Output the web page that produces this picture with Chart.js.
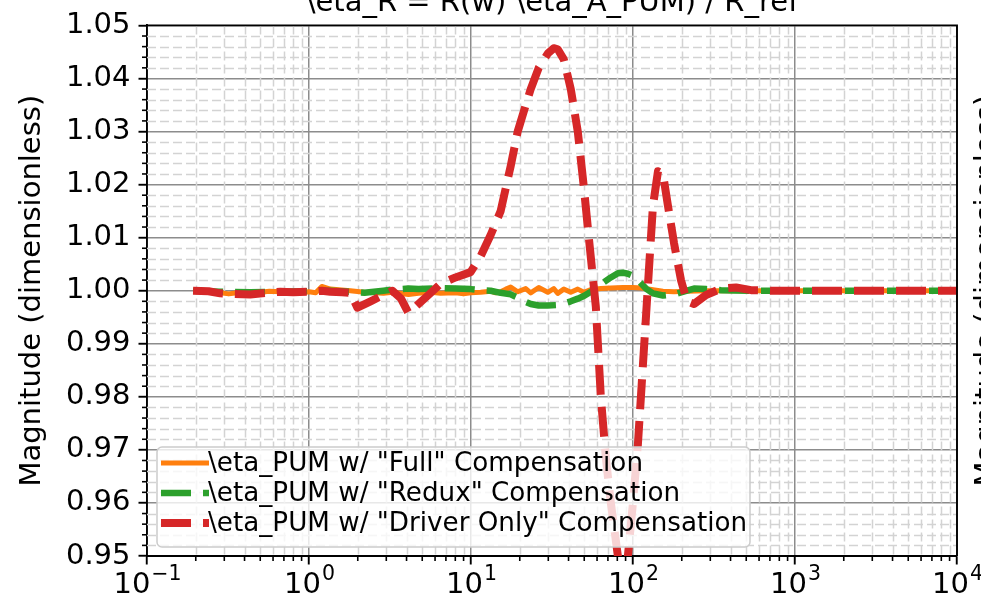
<!DOCTYPE html>
<html>
<head>
<meta charset="utf-8">
<script src="https://cdn.jsdelivr.net/npm/chart.js@4.4.0/dist/chart.umd.min.js"></script>
<style>
  html, body { margin: 0; padding: 0; background: #fff; overflow: hidden; }
  #wrap { width: 981px; height: 601px; }
</style>
</head>
<body>
<div id="wrap"><canvas id="chart" width="981" height="601"></canvas></div>
<script>
// axis ticks
const xTicks = [0.1, 1, 10, 100, 1000, 10000];
const xExponents = ['\u22121', '0', '1', '2', '3', '4'];
const yTicks = [0.95, 0.96, 0.97, 0.98, 0.99, 1.00, 1.01, 1.02, 1.03, 1.04, 1.05];

const seriesNames = [
  '\\eta_PUM w/ "Full" Compensation',
  '\\eta_PUM w/ "Redux" Compensation',
  '\\eta_PUM w/ "Driver Only" Compensation'
];

// "Full" compensation (orange)
const fullFreq = [0.1925, 0.24, 0.283, 0.32, 0.36, 0.434, 0.5, 0.57, 0.665, 0.8, 1.0, 1.1, 1.2, 1.354, 1.8, 2.2, 2.88, 3.27, 4.11, 4.74, 5.6, 6.49, 8.03, 9.0, 9.94, 11.47, 13.22, 14.2, 15.24, 16.4, 17.58, 19.42, 21.77, 23.37, 26.18, 29.77, 32.42, 34.32, 37.39, 41.3, 45.62, 49.72, 54.91, 63.31, 73.0, 86.6, 99.9, 113.5, 132.8, 153.1, 179.1, 215.4, 282.4, 1000, 10000];
const fullMag  = [1.0000, 0.9999, 0.9996, 0.9994, 0.9996, 0.9998, 0.9997, 0.9999, 0.9998, 0.9996, 0.9998, 0.9996, 1.0008, 1.0003, 1.0000, 0.9997, 0.9995, 0.9997, 0.9993, 0.9995, 0.9997, 0.9995, 0.9996, 0.9994, 0.9996, 0.9997, 0.9999, 0.9996, 0.9998, 1.0003, 1.0007, 0.9998, 1.0004, 0.9996, 1.0006, 0.9997, 1.0004, 0.9995, 1.0003, 0.9997, 1.0003, 0.9997, 1.0002, 1.0004, 1.0005, 1.0006, 1.0006, 1.0005, 1.0002, 0.9999, 0.9998, 0.9999, 1.0000, 1.0000, 1.0000];

// "Redux" compensation (green)
const reduxFreq = [0.1925, 0.283, 0.434, 0.665, 1.0, 1.354, 1.8, 2.2, 2.88, 3.27, 4.11, 4.74, 6.49, 8.03, 9.94, 11.47, 13.22, 15.24, 17.58, 19.42, 21.77, 23.37, 26.18, 29.77, 34.32, 37.39, 41.3, 45.62, 49.72, 54.91, 63.31, 73.0, 80.66, 86.6, 93.0, 99.9, 107.2, 113.5, 120.2, 132.8, 153.1, 179.1, 215.4, 238.0, 282.4, 349.7, 536, 1000, 10000];
const reduxMag  = [1.0000, 0.9998, 0.9997, 0.9998, 0.9999, 1.0000, 0.9998, 0.9996, 1.0000, 1.0002, 1.0004, 1.0003, 1.0005, 1.0004, 1.0003, 1.0001, 1.0000, 0.9996, 0.9993, 0.9987, 0.9979, 0.9975, 0.9972, 0.9972, 0.9973, 0.9976, 0.9980, 0.9985, 0.9990, 0.9998, 1.0012, 1.0025, 1.0033, 1.0034, 1.0032, 1.0028, 1.0020, 1.0012, 1.0004, 0.9995, 0.9991, 0.9993, 1.0000, 1.0004, 1.0003, 1.0001, 1.0000, 1.0000, 1.0000];

// "Driver Only" compensation (red)
const driverFreq = [0.1925, 0.24, 0.283, 0.33, 0.434, 0.55, 0.665, 0.8, 1.0, 1.2, 1.354, 1.6, 1.8, 1.99, 2.4, 2.88, 3.27, 3.7, 4.11, 4.74, 5.6, 6.49, 8.03, 9.94, 11.47, 13.22, 15.24, 17.58, 19.42, 21.77, 23.37, 26.18, 29.77, 32.42, 34.32, 37.39, 41.3, 45.62, 49.72, 53.38, 58.96, 63.31, 67.98, 73.0, 80.66, 86.6, 93.0, 99.9, 107.2, 113.5, 120.2, 125.4, 132.8, 142.6, 153.1, 164.4, 179.1, 197.8, 215.4, 238.0, 282.4, 349.7, 432.9, 536, 712.5, 1000, 2000, 5000, 10000];
const driverMag  = [1.0000, 0.9999, 0.9995, 0.9994, 0.9993, 0.9996, 0.9998, 0.9997, 0.9998, 1.0000, 0.9998, 0.9997, 0.9996, 0.9968, 0.9980, 0.9992, 1.0000, 0.9985, 0.9958, 0.9975, 0.9995, 1.0013, 1.0025, 1.0035, 1.0065, 1.0105, 1.0150, 1.0235, 1.0300, 1.0350, 1.0380, 1.0420, 1.0447, 1.0457, 1.0455, 1.0436, 1.0380, 1.0300, 1.0195, 1.0100, 0.9970, 0.9800, 0.9685, 0.9600, 0.9500, 0.9465, 0.9500, 0.9600, 0.9710, 0.9830, 0.9950, 1.0040, 1.0160, 1.0225, 1.0220, 1.0160, 1.0090, 1.0020, 0.9980, 0.9975, 0.9992, 1.0004, 1.0006, 1.0001, 1.0000, 1.0000, 1.0000, 1.0000, 1.0000];

const FONT = 'DejaVu Sans';
const colors = ['#ff7f0e', '#2ca02c', '#d62728'];
const widths = [5, 6.5, 8];
const dashes = [[], [30, 12], [30, 12]];

function pts(fs, ms) {
  return fs.map((f, i) => ({ x: f, y: ms[i] }));
}

// minor grid + minor ticks (matplotlib style)
const minorGrid = {
  id: 'minorGrid',
  beforeDatasetsDraw(chart) {
    const { ctx, chartArea: a, scales: { x, y } } = chart;
    ctx.save();
    ctx.strokeStyle = '#d3d3d3';
    ctx.lineWidth = 1.5;
    ctx.setLineDash([9, 4]);
    for (let d = -1; d < 4; d++) {
      for (let k = 2; k <= 9; k++) {
        const px = Math.round(x.getPixelForValue(k * Math.pow(10, d))) + 0.5;
        ctx.beginPath(); ctx.moveTo(px, a.top); ctx.lineTo(px, a.bottom); ctx.stroke();
      }
    }
    for (let i = 0; i <= 50; i++) {
      if (i % 5 === 0) continue;
      const py = Math.round(y.getPixelForValue(0.95 + i * 0.002)) + 0.5;
      ctx.beginPath(); ctx.moveTo(a.left, py); ctx.lineTo(a.right, py); ctx.stroke();
    }
    // minor ticks
    ctx.setLineDash([]);
    ctx.strokeStyle = '#000';
    ctx.lineWidth = 1.6;
    for (let d = -1; d < 4; d++) {
      for (let k = 2; k <= 9; k++) {
        const px = x.getPixelForValue(k * Math.pow(10, d));
        ctx.beginPath(); ctx.moveTo(px, a.bottom); ctx.lineTo(px, a.bottom + 5); ctx.stroke();
      }
    }
    for (let i = 0; i <= 50; i++) {
      if (i % 5 === 0) continue;
      const py = y.getPixelForValue(0.95 + i * 0.002);
      ctx.beginPath(); ctx.moveTo(a.left, py); ctx.lineTo(a.left - 5, py); ctx.stroke();
    }
    ctx.restore();
  }
};

// legend box drawn over the lines
const boxLegend = {
  id: 'boxLegend',
  afterDatasetsDraw(chart) {
    const { ctx } = chart;
    const bx = 157, by = 447, bw = 593, bh = 100, r = 5;
    ctx.save();
    ctx.beginPath();
    ctx.roundRect(bx, by, bw, bh, r);
    ctx.fillStyle = 'rgba(255,255,255,0.8)';
    ctx.fill();
    ctx.strokeStyle = '#cccccc';
    ctx.lineWidth = 1.5;
    ctx.stroke();
    ctx.font = '26.2px "' + FONT + '"';
    ctx.textBaseline = 'middle';
    ctx.fillStyle = '#000';
    seriesNames.forEach((name, i) => {
      const cy = by + 16 + i * 30;
      ctx.beginPath();
      ctx.setLineDash(dashes[i]);
      ctx.strokeStyle = colors[i];
      ctx.lineWidth = widths[i];
      ctx.moveTo(161, cy); ctx.lineTo(209, cy);
      ctx.stroke();
      ctx.setLineDash([]);
      ctx.fillText(name, 208, cy + 1);
    });
    ctx.restore();
  }
};

// frame, decade labels, clipped title on top, clipped twin label on the right
const frame = {
  id: 'frame',
  afterDraw(chart) {
    const { ctx, chartArea: a, scales: { x } } = chart;
    ctx.save();
    ctx.strokeStyle = '#000';
    ctx.lineWidth = 1.9;
    ctx.beginPath();
    ctx.moveTo(a.left, a.top); ctx.lineTo(a.right, a.top); ctx.lineTo(a.right, a.bottom);
    ctx.stroke();
    ctx.fillStyle = '#000';
    ctx.textBaseline = 'alphabetic';
    // x decade labels 10^e
    xTicks.forEach((v, i) => {
      const px = x.getPixelForValue(v);
      ctx.font = '29px "' + FONT + '"';
      const wBase = ctx.measureText('10').width;
      ctx.font = '20.5px "' + FONT + '"';
      const wExp = ctx.measureText(xExponents[i]).width;
      const left = px - (wBase + wExp) / 2;
      ctx.textAlign = 'left';
      ctx.font = '29px "' + FONT + '"';
      ctx.fillText('10', left, 593);
      ctx.font = '20.5px "' + FONT + '"';
      ctx.fillText(xExponents[i], left + wBase + 1, 580);
    });
    ctx.font = '29px "' + FONT + '"';
    ctx.textAlign = 'center';
    ctx.fillText('\\eta_R = R(w) \\eta_A_PUM) / R_ref', (a.left + a.right) / 2, 11);
    ctx.translate(995, (a.top + a.bottom) / 2);
    ctx.rotate(-Math.PI / 2);
    ctx.fillText('Magnitude (dimensionless)', 0, 0);
    ctx.restore();
  }
};

new Chart(document.getElementById('chart'), {
  type: 'line',
  data: {
    datasets: [
      { label: seriesNames[0], data: pts(fullFreq, fullMag), borderColor: colors[0], borderWidth: widths[0], borderDash: dashes[0], order: 3 },
      { label: seriesNames[1], data: pts(reduxFreq, reduxMag), borderColor: colors[1], borderWidth: widths[1], borderDash: dashes[1], order: 2 },
      { label: seriesNames[2], data: pts(driverFreq, driverMag), borderColor: colors[2], borderWidth: widths[2], borderDash: dashes[2], order: 1 }
    ]
  },
  options: {
    responsive: false,
    animation: false,
    devicePixelRatio: 1,
    layout: { padding: { top: 17, right: 24, left: 0, bottom: 0 } },
    elements: {
      point: { radius: 0 },
      line: { tension: 0, fill: false, borderJoinStyle: 'round', borderCapStyle: 'butt' }
    },
    plugins: { legend: { display: false }, tooltip: { enabled: false } },
    scales: {
      x: {
        type: 'logarithmic',
        min: 0.1,
        max: 10000,
        afterBuildTicks: (axis) => { axis.ticks = xTicks.map(v => ({ value: v })); },
        afterFit: (axis) => { axis.height = 45; },
        ticks: { display: false },
        grid: { color: '#8c8c8c', lineWidth: 1.5, tickLength: 8.5, tickColor: '#000', tickWidth: 1.9 },
        border: { color: '#000', width: 1.9 }
      },
      y: {
        type: 'linear',
        min: 0.95,
        max: 1.05,
        afterBuildTicks: (axis) => { axis.ticks = yTicks.map(v => ({ value: v })); },
        afterFit: (axis) => { axis.width = 147; },
        ticks: {
          callback: (v) => v.toFixed(2),
          color: '#000',
          padding: 8,
          font: { family: FONT, size: 29 }
        },
        grid: { color: '#8c8c8c', lineWidth: 1.5, tickLength: 8.5, tickColor: '#000', tickWidth: 1.9 },
        border: { color: '#000', width: 1.9 },
        title: {
          display: true,
          text: 'Magnitude (dimensionless)',
          color: '#000',
          padding: { top: 15, bottom: 0 },
          font: { family: FONT, size: 29 }
        }
      }
    }
  },
  plugins: [minorGrid, boxLegend, frame]
});
</script>
</body>
</html>
